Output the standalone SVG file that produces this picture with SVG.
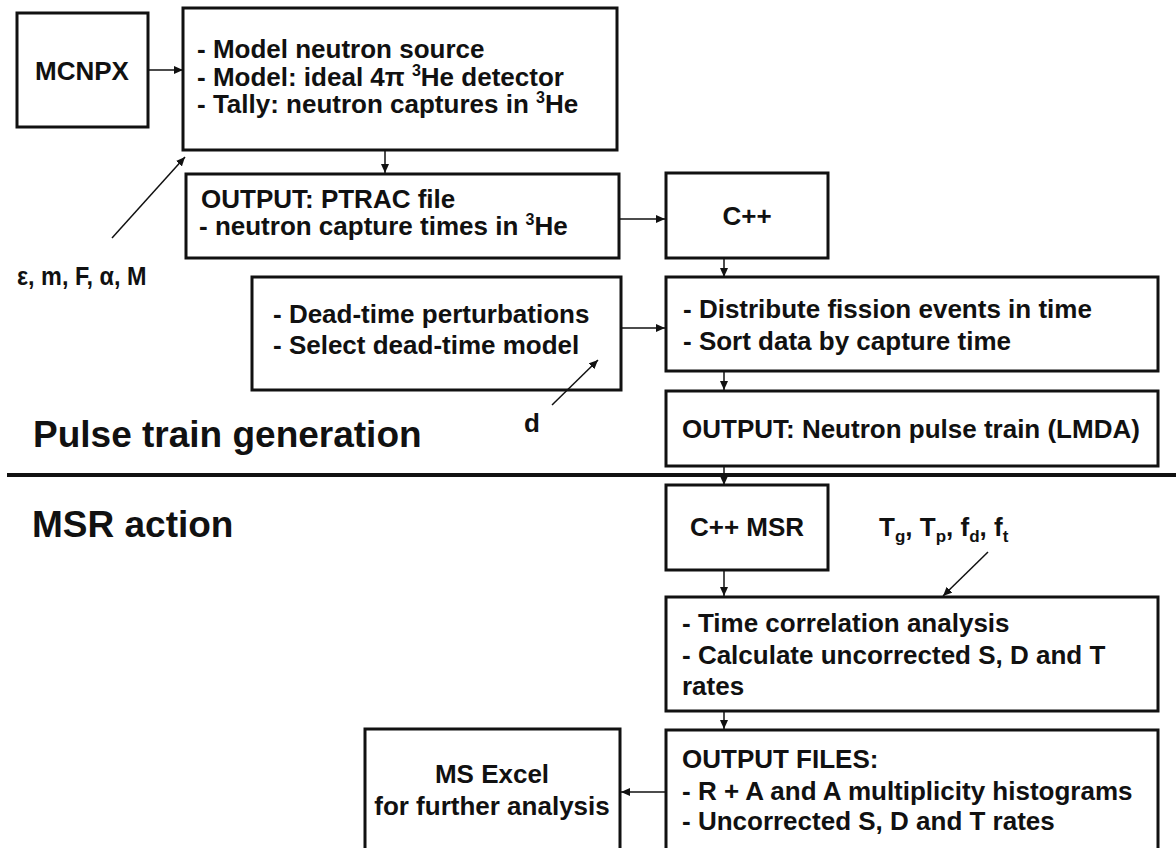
<svg xmlns="http://www.w3.org/2000/svg" width="1176" height="848" viewBox="0 0 1176 848">
<defs>
<marker id="ah" markerUnits="userSpaceOnUse" markerWidth="10" markerHeight="8" refX="9" refY="4" orient="auto">
<path d="M0,0 L9,4 L0,8 Z" fill="#111"/>
</marker>
<style>
.box{fill:#fff;stroke:#111;stroke-width:3}
.t{font-family:"Liberation Sans",Arial,sans-serif;font-size:26px;font-weight:bold;fill:#111}
.p{font-family:"Liberation Sans",Arial,sans-serif;font-size:26px;font-weight:bold;fill:#111}
.h{font-family:"Liberation Sans",Arial,sans-serif;font-size:37px;font-weight:bold;fill:#111}
.c{stroke:#111;stroke-width:1.5;fill:none;marker-end:url(#ah)}
.sup{font-size:16px}
.sub{font-size:17px}
</style>
</defs>
<rect width="1176" height="848" fill="#fff"/>

<g id="divider">
<line x1="7" y1="475" x2="1176" y2="475" stroke="#111" stroke-width="4"/>
</g>

<g id="heading-pulse"><text class="h" x="33" y="447">Pulse train generation</text></g>
<g id="heading-msr"><text class="h" x="32" y="537">MSR action</text></g>

<g id="mcnpx">
<rect class="box" x="17" y="13" width="131" height="114"/>
<text class="t" x="82" y="80" text-anchor="middle">MCNPX</text>
</g>

<g id="model">
<rect class="box" x="183" y="8" width="434" height="142"/>
<text class="t" x="197" y="58">- Model neutron source</text>
<text class="t" x="197" y="86">- Model: ideal 4π <tspan class="sup" dy="-10">3</tspan><tspan dy="10">He detector</tspan></text>
<text class="t" x="197" y="113">- Tally: neutron captures in <tspan class="sup" dy="-10">3</tspan><tspan dy="10">He</tspan></text>
</g>

<g id="params-mcnpx"><text class="p" transform="translate(17,285) scale(0.9,1)">ε, m, F, α, M</text></g>

<g id="ptrac">
<rect class="box" x="186" y="174" width="433" height="84"/>
<text class="t" x="201" y="208">OUTPUT: PTRAC file</text>
<text class="t" x="199" y="235">- neutron capture times in <tspan class="sup" dy="-10">3</tspan><tspan dy="10">He</tspan></text>
</g>

<g id="cpp">
<rect class="box" x="666" y="173" width="162" height="85"/>
<text class="t" x="747" y="225" text-anchor="middle">C++</text>
</g>

<g id="deadtime">
<rect class="box" x="252" y="277" width="369" height="113"/>
<text class="t" x="273" y="323">- Dead-time perturbations</text>
<text class="t" x="273" y="354">- Select dead-time model</text>
</g>

<g id="param-d"><text class="p" x="524" y="432">d</text></g>

<g id="distribute">
<rect class="box" x="666" y="277" width="492" height="94"/>
<text class="t" x="683" y="318">- Distribute fission events in time</text>
<text class="t" x="683" y="350">- Sort data by capture time</text>
</g>

<g id="lmda">
<rect class="box" x="666" y="391" width="492" height="75"/>
<text class="t" x="682" y="438">OUTPUT: Neutron pulse train (LMDA)</text>
</g>

<g id="cppmsr">
<rect class="box" x="666" y="485" width="162" height="85"/>
<text class="t" x="747" y="536" text-anchor="middle">C++ MSR</text>
</g>

<g id="params-msr"><text class="p" x="879" y="536">T<tspan class="sub" dy="6">g</tspan><tspan dy="-6">, T</tspan><tspan class="sub" dy="6">p</tspan><tspan dy="-6">, f</tspan><tspan class="sub" dy="6">d</tspan><tspan dy="-6">, f</tspan><tspan class="sub" dy="6">t</tspan></text></g>

<g id="timecorr">
<rect class="box" x="666" y="597" width="492" height="114"/>
<text class="t" x="682" y="632">- Time correlation analysis</text>
<text class="t" x="682" y="664">- Calculate uncorrected S, D and T</text>
<text class="t" x="682" y="695">rates</text>
</g>

<g id="outputfiles">
<rect class="box" x="666" y="730" width="492" height="124"/>
<text class="t" x="682" y="768">OUTPUT FILES:</text>
<text class="t" x="682" y="800">- R + A and A multiplicity histograms</text>
<text class="t" x="682" y="830">- Uncorrected S, D and T rates</text>
</g>

<g id="excel">
<rect class="box" x="365" y="729" width="255" height="125"/>
<text class="t" x="492" y="783" text-anchor="middle">MS Excel</text>
<text class="t" x="492" y="815" text-anchor="middle">for further analysis</text>
</g>

<g id="connectors">
<line class="c" x1="148" y1="70" x2="183" y2="70"/>
<line class="c" x1="112" y1="238" x2="185" y2="157"/>
<line class="c" x1="385" y1="150" x2="385" y2="173"/>
<line class="c" x1="619" y1="219" x2="665" y2="219"/>
<line class="c" x1="724" y1="258" x2="724" y2="277"/>
<line class="c" x1="621" y1="328" x2="665" y2="328"/>
<line class="c" x1="552" y1="405" x2="598" y2="360"/>
<line class="c" x1="724" y1="371" x2="724" y2="390"/>
<line class="c" x1="724" y1="466" x2="724" y2="485"/>
<line class="c" x1="724" y1="570" x2="724" y2="596"/>
<line class="c" x1="988" y1="552" x2="943" y2="596"/>
<line class="c" x1="724" y1="711" x2="724" y2="729"/>
<line class="c" x1="666" y1="792" x2="621" y2="792"/>
</g>
</svg>
